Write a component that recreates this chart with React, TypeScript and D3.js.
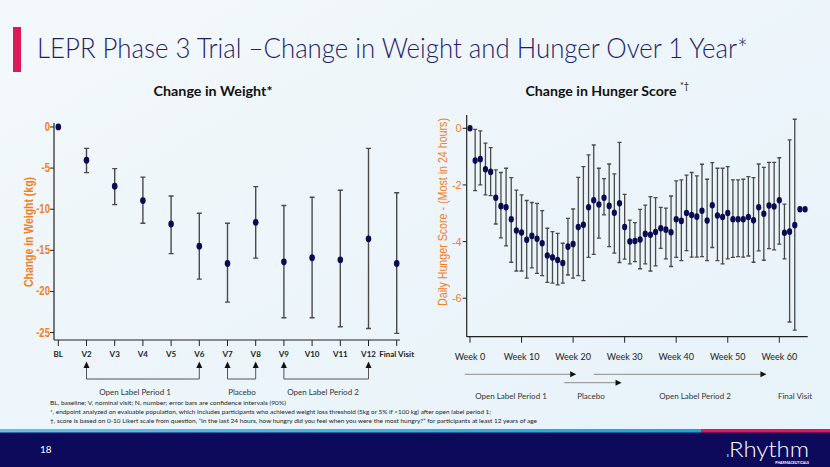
import React from "react";
import * as d3 from "d3";

const weightCategories = ["BL", "V2", "V3", "V4", "V5", "V6", "V7", "V8", "V9", "V10", "V11", "V12", "Final Visit"];
const weightMean = [0, -4.05, -7.2, -8.95, -11.8, -14.5, -16.6, -11.6, -16.4, -15.9, -16.15, -13.6, -16.6];
const weightUpper: (number | null)[] = [null, -2.6, -5.07, -6.1, -8.4, -10.5, -11.7, -7.25, -9.55, -8.55, -7.7, -2.6, -8.0];
const weightLower: (number | null)[] = [null, -5.55, -9.44, -11.7, -15.4, -18.5, -21.3, -15.95, -23.2, -23.2, -24.3, -24.5, -25.1];
const weightTicks = [0, -5, -10, -15, -20, -25];

const hungerWeeks = [0, 1, 2, 3, 4, 5, 6, 7, 8, 9, 10, 11, 12, 13, 14, 15, 16, 17, 18, 19, 20, 21, 22, 23, 24, 25, 26, 27, 28, 29, 30, 31, 32, 33, 34, 35, 36, 37, 38, 39, 40, 41, 42, 43, 44, 45, 46, 47, 48, 49, 50, 51, 52, 53, 54, 55, 56, 57, 58, 59, 60, 61, 62, 63, 64, 65];
const hungerMean = [0, -1.14, -1.09, -1.45, -1.54, -2.45, -2.75, -2.79, -3.21, -3.61, -3.68, -3.94, -3.8, -3.9, -4.06, -4.49, -4.56, -4.65, -4.76, -4.18, -4.09, -3.49, -3.41, -2.79, -2.54, -2.69, -2.45, -2.74, -2.98, -2.65, -3.49, -4.0, -3.98, -3.93, -3.73, -3.76, -3.66, -3.53, -3.58, -3.67, -3.21, -3.27, -2.99, -3.06, -3.12, -2.91, -3.26, -2.72, -3.08, -3.13, -2.99, -3.21, -3.21, -3.21, -3.13, -3.25, -2.79, -3.02, -2.73, -2.76, -2.54, -3.69, -3.65, -3.42, -2.86, -2.86];
const hungerUpper: (number | null)[] = [null, -0.035, -0.09, -0.52, -0.68, -1.47, -1.56, -1.41, -1.74, -2.18, -2.35, -2.55, -2.62, -2.65, -2.91, -3.53, -3.65, -3.71, -4.06, -3.18, -2.85, -1.73, -1.35, -0.94, -0.59, -1.41, -1.78, -1.26, -1.61, -0.5, -2.33, -3.24, -3.33, -2.86, -2.71, -2.41, -2.45, -2.79, -2.82, -2.39, -1.86, -1.82, -1.65, -1.56, -1.68, -1.27, -1.8, -1.21, -1.41, -1.41, -1.35, -1.82, -1.82, -1.8, -1.71, -1.74, -1.26, -1.38, -1.2, -1.2, -1.04, -2.68, -0.41, 0.32, null, null];
const hungerLower: (number | null)[] = [null, -2.2, -2.0, -2.35, -2.38, -3.38, -3.87, -4.15, -4.73, -5.04, -5.04, -5.29, -4.93, -5.12, -5.2, -5.44, -5.47, -5.53, -5.47, -5.18, -5.29, -5.2, -5.38, -4.56, -4.45, -3.88, -3.06, -4.18, -4.41, -4.74, -4.62, -4.79, -4.71, -4.96, -4.79, -5.04, -4.86, -4.24, -4.61, -4.88, -4.56, -4.67, -4.32, -4.55, -4.55, -4.53, -4.67, -4.21, -4.67, -4.79, -4.61, -4.56, -4.53, -4.55, -4.51, -4.73, -4.33, -4.66, -4.25, -4.29, -4.09, -4.61, -6.84, -7.13, null, null];
const hungerTicks = [0, -2, -4, -6];
const weekTicks = [0, 10, 20, 30, 40, 50, 60];

const footnotes = [
  "BL, baseline; V, nominal visit; N, number; error bars are confidence intervals (90%)",
  "*, endpoint analyzed on evaluable population, which includes participants who achieved weight loss threshold (5kg or 5% if <100 kg) after open label period 1;",
  "\u2020, score is based on 0-10 Likert scale from question, \u201cIn the last 24 hours, how hungry did you feel when you were the most hungry?\u201d for participants at least 12 years of age",
];

const ORANGE = "#f0811e";
const NAVY = "#0b0b52";
const BAR = "#4a4a4a";
const CHART_FONT = "'Liberation Sans', Arial, sans-serif";
const SLIDE_FONT = "Lato, 'Open Sans', sans-serif";

export default function App() {
  const xL = d3.scalePoint<string>().domain(weightCategories).range([58.3, 396.7]);
  const yL = d3.scaleLinear().domain([-26, 0.7]).range([340.8, 121.2]);
  const xR = d3.scaleLinear().domain([0, 10]).range([470, 521.55]);
  const yR = d3.scaleLinear().domain([-7.36, 0.47]).range([336.7, 115]);

  const leftAxisX = 54;
  const leftAxisY = 340;
  const rightAxisX = 466.7;
  const rightAxisY = 336.7;

  const bracket = (a: string, b: string) => {
    const x1 = xL(a)!;
    const x2 = xL(b)!;
    return (
      <g>
        <path d={`M${x1},379 L${x1},367 M${x1},379 L${x2},379 L${x2},367`} fill="none" stroke="#555" strokeWidth={1} />
        <path d={`M${x1 - 3},368 L${x1},361.5 L${x1 + 3},368 Z`} fill="#111" />
        <path d={`M${x2 - 3},368 L${x2},361.5 L${x2 + 3},368 Z`} fill="#111" />
      </g>
    );
  };

  const arrowR = (w1: number, w2: number, y: number) => {
    const x1 = xR(w1);
    const x2 = xR(w2);
    return (
      <g>
        <line x1={x1} x2={x2 - 5} y1={y} y2={y} stroke="#8a8a8a" strokeWidth={1} />
        <path d={`M${x2 - 6},${y - 3} L${x2},${y} L${x2 - 6},${y + 3} Z`} fill="#111" />
      </g>
    );
  };

  return (
    <svg width={830} height={467} style={{ position: "absolute", left: 0, top: 0 }} xmlns="http://www.w3.org/2000/svg">
      <defs>
        <linearGradient id="bg" x1="0" y1="0" x2="1" y2="1">
          <stop offset="0" stopColor="#f3f8fb" />
          <stop offset="1" stopColor="#e6f2f9" />
        </linearGradient>
        <linearGradient id="stripe" x1="0" y1="0" x2="1" y2="0">
          <stop offset="0" stopColor="#5fc3ec" />
          <stop offset="1" stopColor="#1aa3de" />
        </linearGradient>
      </defs>
      <rect x={0} y={0} width={830} height={467} fill="url(#bg)" />

      {/* Title */}
      <rect x={13} y={27} width={8} height={45} fill="#e0185a" />
      <text x={37} y={58} fontFamily={SLIDE_FONT} fontWeight={300} fontSize={27} fill="#1f1e6c" textLength={711} lengthAdjust="spacingAndGlyphs">
        LEPR Phase 3 Trial –Change in Weight and Hunger Over 1 Year*
      </text>

      {/* Subtitles */}
      <text x={213} y={96} textAnchor="middle" fontFamily={SLIDE_FONT} fontWeight={700} fontSize={14} fill="#111" textLength={119} lengthAdjust="spacingAndGlyphs">
        Change in Weight*
      </text>
      <text x={601} y={96} textAnchor="middle" fontFamily={SLIDE_FONT} fontWeight={700} fontSize={14} fill="#111" textLength={151} lengthAdjust="spacingAndGlyphs">
        Change in Hunger Score
      </text>
      <text x={680} y={89} fontFamily={SLIDE_FONT} fontSize={9} fill="#111">*†</text>

      {/* LEFT CHART */}
      <g>
        <line x1={leftAxisX} x2={leftAxisX} y1={123} y2={leftAxisY} stroke="#222" strokeWidth={1.2} />
        <line x1={leftAxisX} x2={400} y1={leftAxisY} y2={leftAxisY} stroke="#222" strokeWidth={1.2} />
        {weightTicks.map((t) => (
          <g key={t}>
            <line x1={leftAxisX - 4} x2={leftAxisX} y1={yL(t)} y2={yL(t)} stroke="#222" strokeWidth={1} />
            <text
              transform={`translate(${leftAxisX - 4},${yL(t) + 4}) scale(0.8,1)`}
              textAnchor="end"
              fontFamily={CHART_FONT}
              fontWeight={700}
              fontSize={12}
              fill={ORANGE}
            >
              {t}
            </text>
          </g>
        ))}
        {weightCategories.map((c) => (
          <g key={c}>
            <line x1={xL(c)!} x2={xL(c)!} y1={leftAxisY} y2={leftAxisY + 6} stroke="#222" strokeWidth={1} />
            <text x={xL(c)!} y={leftAxisY + 17} textAnchor="middle" fontFamily={SLIDE_FONT} fontWeight={700} fontSize={8} fill="#222">
              {c}
            </text>
          </g>
        ))}
        <text transform={`translate(33,232) rotate(-90)`} textAnchor="middle" fontFamily={CHART_FONT} fontWeight={700} fontSize={12.5} fill={ORANGE} textLength={110} lengthAdjust="spacingAndGlyphs">
          Change in Weight (kg)
        </text>
        {weightCategories.map((c, i) => {
          const x = xL(c)!;
          const hi = weightUpper[i];
          const lo = weightLower[i];
          return (
            <g key={"e" + c}>
              {hi !== null && lo !== null && (
                <path
                  d={`M${x},${yL(hi)} L${x},${yL(lo)} M${x - 2.5},${yL(hi)} L${x + 2.5},${yL(hi)} M${x - 2.5},${yL(lo)} L${x + 2.5},${yL(lo)}`}
                  stroke={BAR}
                  strokeWidth={1.4}
                  fill="none"
                />
              )}
              <ellipse cx={x} cy={yL(weightMean[i])} rx={2.8} ry={3.4} fill={NAVY} />
            </g>
          );
        })}
        {bracket("V2", "V6")}
        {bracket("V7", "V8")}
        {bracket("V9", "V12")}
        <text x={135} y={395} textAnchor="middle" fontFamily={SLIDE_FONT} fontSize={8} fill="#333">Open Label Period 1</text>
        <text x={242} y={395} textAnchor="middle" fontFamily={SLIDE_FONT} fontSize={8} fill="#333">Placebo</text>
        <text x={323} y={395} textAnchor="middle" fontFamily={SLIDE_FONT} fontSize={8} fill="#333">Open Label Period 2</text>
      </g>

      {/* RIGHT CHART */}
      <g>
        <line x1={rightAxisX} x2={rightAxisX} y1={115} y2={rightAxisY} stroke="#222" strokeWidth={1.2} />
        <line x1={rightAxisX} x2={807.7} y1={rightAxisY} y2={rightAxisY} stroke="#222" strokeWidth={1.2} />
        {hungerTicks.map((t) => (
          <g key={t}>
            <line x1={rightAxisX - 4} x2={rightAxisX} y1={yR(t)} y2={yR(t)} stroke="#222" strokeWidth={1} />
            <text x={rightAxisX - 5} y={yR(t) + 4} textAnchor="end" fontFamily={CHART_FONT} fontSize={11} fill={ORANGE}>
              {t}
            </text>
          </g>
        ))}
        {weekTicks.map((w) => (
          <g key={w}>
            <line x1={xR(w)} x2={xR(w)} y1={rightAxisY} y2={rightAxisY + 6} stroke="#222" strokeWidth={1} />
            <text x={xR(w)} y={rightAxisY + 23} textAnchor="middle" fontFamily={SLIDE_FONT} fontSize={9} fill="#222">
              {"Week " + w}
            </text>
          </g>
        ))}
        <text transform={`translate(447,212) rotate(-90)`} textAnchor="middle" fontFamily={CHART_FONT} fontSize={12} fill={ORANGE} textLength={188} lengthAdjust="spacingAndGlyphs">
          Daily Hunger Score - (Most in 24 hours)
        </text>
        {hungerWeeks.map((w, i) => {
          const x = xR(w);
          const hi = hungerUpper[i];
          const lo = hungerLower[i];
          return (
            <g key={"h" + w}>
              {hi !== null && lo !== null && (
                <path
                  d={`M${x},${yR(hi)} L${x},${yR(lo)} M${x - 2},${yR(hi)} L${x + 2},${yR(hi)} M${x - 2},${yR(lo)} L${x + 2},${yR(lo)}`}
                  stroke={BAR}
                  strokeWidth={1.3}
                  fill="none"
                />
              )}
              <ellipse cx={x} cy={yR(hungerMean[i])} rx={2.6} ry={3.3} fill={NAVY} />
            </g>
          );
        })}
        {arrowR(-1, 20.6, 374.3)}
        {arrowR(18.3, 29.4, 382.7)}
        {arrowR(24, 57.5, 374.3)}
        <text x={511} y={399} textAnchor="middle" fontFamily={SLIDE_FONT} fontSize={8} fill="#333">Open Label Period 1</text>
        <text x={591} y={399} textAnchor="middle" fontFamily={SLIDE_FONT} fontSize={8} fill="#333">Placebo</text>
        <text x={695} y={399} textAnchor="middle" fontFamily={SLIDE_FONT} fontSize={8} fill="#333">Open Label Period 2</text>
        <text x={795} y={399} textAnchor="middle" fontFamily={SLIDE_FONT} fontSize={8} fill="#333">Final Visit</text>
      </g>

      {/* Footnotes */}
      <text x={50} y={405} fontFamily={SLIDE_FONT} fontSize={6} fill="#222" textLength={236} lengthAdjust="spacingAndGlyphs">{footnotes[0]}</text>
      <text x={50} y={414} fontFamily={SLIDE_FONT} fontSize={6} fill="#222" textLength={441} lengthAdjust="spacingAndGlyphs">{footnotes[1]}</text>
      <text x={50} y={423} fontFamily={SLIDE_FONT} fontSize={6} fill="#222" textLength={487} lengthAdjust="spacingAndGlyphs">{footnotes[2]}</text>

      {/* Footer */}
      <rect x={0} y={432} width={830} height={35} fill="#0d0a5c" />
      <rect x={0} y={429} width={701} height={3.5} fill="url(#stripe)" />
      <rect x={701} y={429} width={129} height={3.5} fill="#e0185a" />
      <text x={40} y={453} fontFamily={SLIDE_FONT} fontSize={10} fill="#fff">18</text>
      <text x={729} y={457} fontFamily={SLIDE_FONT} fontWeight={300} fontSize={22} fill="#fff" textLength={80} lengthAdjust="spacingAndGlyphs">Rhythm</text>
      <rect x={727} y={454} width={1.6} height={3} fill="#29b4e8" />
      <text x={809} y={463.5} textAnchor="end" fontFamily={SLIDE_FONT} fontWeight={700} fontSize={3.5} fill="#fff">PHARMACEUTICALS</text>
    </svg>
  );
}
